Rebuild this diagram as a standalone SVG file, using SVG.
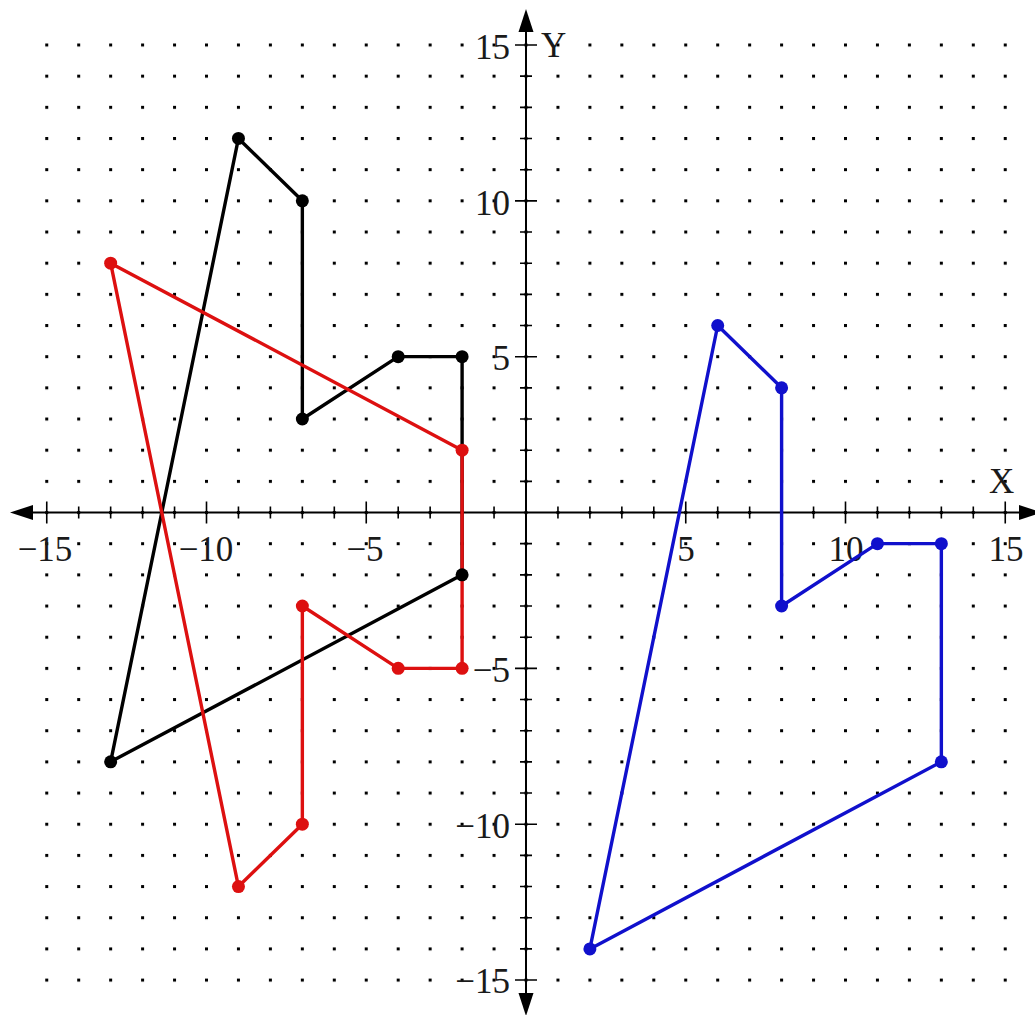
<svg xmlns="http://www.w3.org/2000/svg" width="1035" height="1015" viewBox="0 0 1035 1015">
<defs>
<pattern id="dots" patternUnits="userSpaceOnUse" x="45.25" y="43.5" width="31.95" height="31.17">
<rect x="0" y="0" width="3" height="3" fill="#000"/>
</pattern>
<style>
.axis{stroke:#000;stroke-width:2;fill:none}
.tick{stroke:#000;stroke-width:1.6;fill:none}
.lbl{font-family:"Liberation Serif","Times New Roman",serif;font-size:35px;fill:#1a1a1a}
.poly{fill:none;stroke-width:3.4;stroke-linejoin:round}
.black{stroke:#000}
.red{stroke:#dd1010}
.blue{stroke:#1010cc}
.vb{fill:#000}
.vr{fill:#dd1010}
.vbl{fill:#1010cc}
</style>
</defs>
<rect width="1035" height="1015" fill="#fff"/>
<g id="grid">
<rect x="44" y="42" width="964" height="941" fill="url(#dots)"/>
</g>
<g id="axes">
<line class="axis" x1="20" y1="512.5" x2="1025" y2="512.5"/>
<line class="axis" x1="526" y1="20" x2="526" y2="1005"/>
<polygon points="10,512.5 33,505 33,520" fill="#000"/>
<polygon points="1042,512.5 1019,505 1019,520" fill="#000"/>
<polygon points="526,9 518.5,32 533.5,32" fill="#000"/>
<polygon points="526,1016 518.5,993 533.5,993" fill="#000"/>
<path class="tick" d="M46.75 501.5V523.5M78.7 506.5V518.5M110.65 506.5V518.5M142.6 506.5V518.5M174.55 506.5V518.5M206.5 501.5V523.5M238.45 506.5V518.5M270.4 506.5V518.5M302.35 506.5V518.5M334.3 506.5V518.5M366.25 501.5V523.5M398.2 506.5V518.5M430.15 506.5V518.5M462.1 506.5V518.5M494.05 506.5V518.5M557.95 506.5V518.5M589.9 506.5V518.5M621.85 506.5V518.5M653.8 506.5V518.5M685.75 501.5V523.5M717.7 506.5V518.5M749.65 506.5V518.5M781.6 506.5V518.5M813.55 506.5V518.5M845.5 501.5V523.5M877.45 506.5V518.5M909.4 506.5V518.5M941.35 506.5V518.5M973.3 506.5V518.5M1005.25 501.5V523.5"/>
<path class="tick" d="M515 45H537M520 76.17H532M520 107.34H532M520 138.51H532M520 169.68H532M515 200.85H537M520 232.02H532M520 263.19H532M520 294.36H532M520 325.53H532M515 356.7H537M520 387.87H532M520 419.04H532M520 450.21H532M520 481.38H532M520 543.67H532M520 574.84H532M520 606.01H532M520 637.18H532M515 668.35H537M520 699.52H532M520 730.69H532M520 761.86H532M520 793.03H532M515 824.2H537M520 855.37H532M520 886.54H532M520 917.71H532M520 948.88H532M515 980.05H537"/>
</g>
<g id="labels">
<text class="lbl" x="45" y="561" text-anchor="middle">−15</text>
<text class="lbl" x="206" y="561" text-anchor="middle">−10</text>
<text class="lbl" x="365" y="561" text-anchor="middle">−5</text>
<text class="lbl" x="686" y="561" text-anchor="middle">5</text>
<text class="lbl" x="846" y="561" text-anchor="middle">10</text>
<text class="lbl" x="1006" y="561" text-anchor="middle">15</text>
<text class="lbl" x="510" y="59" text-anchor="end">15</text>
<text class="lbl" x="510" y="215" text-anchor="end">10</text>
<text class="lbl" x="510" y="370" text-anchor="end">5</text>
<text class="lbl" x="510" y="682" text-anchor="end">−5</text>
<text class="lbl" x="510" y="838" text-anchor="end">−10</text>
<text class="lbl" x="510" y="993" text-anchor="end">−15</text>
<text class="lbl" x="541" y="57" fill="#333">Y</text>
<text class="lbl" x="989" y="493" fill="#333">X</text>
</g>
<g id="connectors">
<polygon class="poly black" points="238.45,138.46 302.35,200.8 302.35,418.99 398.2,356.65 462.1,356.65 462.1,574.84 110.65,761.86"/>
<polygon class="poly red" points="110.65,263.14 462.1,450.16 462.1,668.35 398.2,668.35 302.35,606.01 302.35,824.2 238.45,886.54"/>
<polygon class="poly blue" points="717.7,325.48 781.6,387.82 781.6,606.01 877.45,543.67 941.35,543.67 941.35,761.86 589.9,948.88"/>
</g>
<g id="black-vertices" class="vb">
<circle cx="238.45" cy="138.46" r="6.5"/>
<circle cx="302.35" cy="200.8" r="6.5"/>
<circle cx="302.35" cy="418.99" r="6.5"/>
<circle cx="398.2" cy="356.65" r="6.5"/>
<circle cx="462.1" cy="356.65" r="6.5"/>
<circle cx="462.1" cy="574.84" r="6.5"/>
<circle cx="110.65" cy="761.86" r="6.5"/>
</g>
<g id="red-vertices" class="vr">
<circle cx="110.65" cy="263.14" r="6.5"/>
<circle cx="462.1" cy="450.16" r="6.5"/>
<circle cx="462.1" cy="668.35" r="6.5"/>
<circle cx="398.2" cy="668.35" r="6.5"/>
<circle cx="302.35" cy="606.01" r="6.5"/>
<circle cx="302.35" cy="824.2" r="6.5"/>
<circle cx="238.45" cy="886.54" r="6.5"/>
</g>
<g id="blue-vertices" class="vbl">
<circle cx="717.7" cy="325.48" r="6.5"/>
<circle cx="781.6" cy="387.82" r="6.5"/>
<circle cx="781.6" cy="606.01" r="6.5"/>
<circle cx="877.45" cy="543.67" r="6.5"/>
<circle cx="941.35" cy="543.67" r="6.5"/>
<circle cx="941.35" cy="761.86" r="6.5"/>
<circle cx="589.9" cy="948.88" r="6.5"/>
</g>
</svg>
